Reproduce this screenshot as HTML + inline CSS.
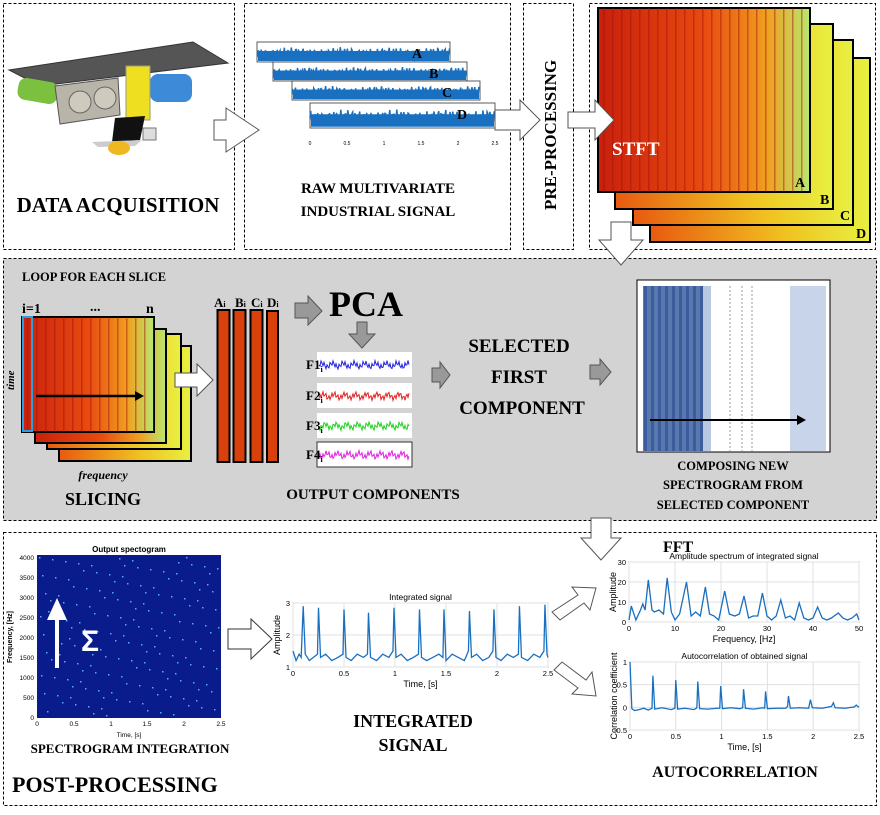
<!DOCTYPE html>
<html><head><meta charset="utf-8"><style>
body{margin:0;background:#fff;}
svg text{font-family:"Liberation Serif",serif;font-weight:bold;}
svg text.s, svg .s text{font-family:"Liberation Sans",sans-serif;font-weight:normal;}
</style></head><body>
<svg id="root" width="880" height="810" viewBox="0 0 880 810" xmlns="http://www.w3.org/2000/svg">
<defs>
<linearGradient id="spec" x1="0" x2="1" y1="0" y2="0"><stop offset="0" stop-color="#c8200c"/><stop offset="0.5" stop-color="#e84a10"/><stop offset="0.8" stop-color="#f0a020"/><stop offset="1" stop-color="#b8e870"/></linearGradient>
<linearGradient id="spec2" x1="0" x2="1"><stop offset="0" stop-color="#e85a10"/><stop offset="0.6" stop-color="#f0c020"/><stop offset="1" stop-color="#e8f040"/></linearGradient>
<pattern id="stripes" width="9" height="10" patternUnits="userSpaceOnUse"><rect width="9" height="10" fill="none"/><rect x="0" width="1.5" height="10" fill="#a01008" opacity="0.45"/></pattern>
<pattern id="bstripes" width="7" height="10" patternUnits="userSpaceOnUse"><rect x="0" width="3" height="10" fill="#2a4a90" opacity="0.6"/></pattern>
</defs>
<!-- frames -->
<rect x="3.5" y="3.5" width="231" height="246" fill="none" stroke="#000" stroke-dasharray="3,2"/>
<rect x="244.5" y="3.5" width="266" height="246" fill="none" stroke="#000" stroke-dasharray="3,2"/>
<rect x="523.5" y="3.5" width="50" height="246" fill="none" stroke="#000" stroke-dasharray="3,2"/>
<rect x="589.5" y="3.5" width="286" height="246" fill="none" stroke="#000" stroke-dasharray="3,2"/>
<rect x="3.5" y="258.5" width="873" height="262" fill="#d3d3d3" stroke="#000" stroke-dasharray="3,2"/>
<rect x="3.5" y="532.5" width="873" height="273" fill="none" stroke="#000" stroke-dasharray="3,2"/>

<!-- machine -->
<g>
<polygon points="9,70 193,42 228,63 40,86" fill="#555" stroke="#333"/>
<rect x="18" y="80" width="40" height="22" rx="8" fill="#7cc040" transform="rotate(10 38 90)"/>
<rect x="150" y="74" width="42" height="28" rx="8" fill="#3c8ad8"/>
<polygon points="55,86 118,78 120,115 60,124" fill="#b8b4a8" stroke="#555"/>
<circle cx="80" cy="102" r="11" fill="#cfcabe" stroke="#666"/><circle cx="105" cy="98" r="11" fill="#cfcabe" stroke="#666"/>
<rect x="126" y="66" width="24" height="54" fill="#eee020" stroke="#997"/>
<polygon points="115,118 145,116 140,140 112,142" fill="#111"/>
<polygon points="92,142 142,140 135,146 98,147" fill="#ccc"/>
<ellipse cx="119" cy="148" rx="11" ry="7" fill="#f0b820"/>
<rect x="143" y="128" width="13" height="12" fill="#ddd" stroke="#777"/>
</g>
<text x="118" y="212" font-size="21" text-anchor="middle">DATA ACQUISITION</text>

<!-- raw signals -->
<g id="raw"></g>
<text x="378" y="193" font-size="15" text-anchor="middle">RAW MULTIVARIATE</text>
<text x="378" y="216" font-size="15" text-anchor="middle">INDUSTRIAL SIGNAL</text>
<text transform="translate(556,210) rotate(-90)" font-size="17">PRE-PROCESSING</text>

<!-- STFT spectrograms -->
<g>
<rect x="650" y="58" width="220" height="184" fill="url(#spec2)" stroke="#000" stroke-width="2"/>
<rect x="633" y="40" width="220" height="185" fill="url(#spec2)" stroke="#000" stroke-width="2"/>
<rect x="615" y="24" width="218" height="185" fill="url(#spec2)" stroke="#000" stroke-width="2"/>
<rect x="598" y="8" width="212" height="184" fill="url(#spec)" stroke="#000" stroke-width="2"/>
<rect x="598" y="8" width="212" height="184" fill="url(#stripes)"/>
<text x="612" y="155" font-size="19" fill="#fff">STFT</text>
<text x="795" y="187" font-size="14">A</text><text x="820" y="204" font-size="14">B</text>
<text x="840" y="220" font-size="14">C</text><text x="856" y="238" font-size="14">D</text>
</g>

<!-- middle section -->
<text x="22" y="281" font-size="12.5">LOOP FOR EACH SLICE</text>
<text x="22" y="313" font-size="14">i=1</text>
<text x="90" y="311" font-size="14">...</text>
<text x="146" y="313" font-size="14">n</text>
<g>
<rect x="59" y="346" width="132" height="115" fill="url(#spec2)" stroke="#000" stroke-width="2"/>
<rect x="47" y="334" width="134" height="115" fill="url(#spec2)" stroke="#000" stroke-width="2"/>
<rect x="35" y="329" width="131" height="114" fill="url(#spec)" stroke="#000" stroke-width="2"/>
<rect x="22" y="317" width="132" height="115" fill="url(#spec)" stroke="#000" stroke-width="2"/>
<rect x="22" y="317" width="132" height="115" fill="url(#stripes)"/>
<rect x="23" y="317" width="9" height="114" fill="none" stroke="#2aa0e0" stroke-width="2"/>
<line x1="36" y1="396" x2="138" y2="396" stroke="#000" stroke-width="2.5"/>
<polygon points="144,396 135,391 135,401" fill="#000"/>
</g>
<text transform="translate(14,390) rotate(-90)" font-size="11" font-style="italic">time</text>
<text x="103" y="479" font-size="12" font-style="italic" text-anchor="middle">frequency</text>
<text x="103" y="505" font-size="18" text-anchor="middle">SLICING</text>
<g><polygon points="175,373 197,373 197,364 213,380 197,396 197,387 175,387" fill="#fff" stroke="#555"/></g>
<g>
<rect x="217.5" y="310" width="12" height="152" fill="#d8400c" stroke="#000" stroke-width="2"/>
<rect x="233.5" y="310" width="12" height="152" fill="#d8400c" stroke="#000" stroke-width="2"/>
<rect x="250.5" y="310" width="12" height="152" fill="#d8400c" stroke="#000" stroke-width="2"/>
<rect x="267" y="311" width="11" height="151" fill="#d8400c" stroke="#000" stroke-width="2"/>
<text x="214" y="307" font-size="13">A<tspan font-size="8">i</tspan></text>
<text x="235" y="307" font-size="13">B<tspan font-size="8">i</tspan></text>
<text x="251" y="307" font-size="13">C<tspan font-size="8">i</tspan></text>
<text x="267" y="307" font-size="13">D<tspan font-size="8">i</tspan></text>
</g>
<polygon points="295,303 308,303 308,296 322,311 308,325 308,318 295,318" fill="#999" stroke="#555"/>
<text x="329" y="316" font-size="36">PCA</text>
<polygon points="357,322 367,322 367,334 375,334 362,348 349,334 357,334" fill="#999" stroke="#555"/>
<g id="fcomp"></g>
<text x="373" y="499" font-size="15" text-anchor="middle">OUTPUT COMPONENTS</text>
<polygon points="432,368 440,368 440,362 450,375 440,388 440,382 432,382" fill="#999" stroke="#555"/>
<g>
<text x="519" y="352" font-size="19" text-anchor="middle">SELECTED</text>
<text x="519" y="383" font-size="19" text-anchor="middle">FIRST</text>
<text x="522" y="414" font-size="19" text-anchor="middle">COMPONENT</text>
</g>
<polygon points="590,365 600,365 600,359 611,372 600,385 600,379 590,379" fill="#999" stroke="#555"/>
<g>
<rect x="637" y="280" width="193" height="172" fill="#fff" stroke="#000"/>
<rect x="643" y="286" width="60" height="165" fill="#5878b0"/>
<rect x="643" y="286" width="60" height="165" fill="url(#bstripes)"/>
<rect x="703" y="286" width="8" height="165" fill="#b8c8e0"/>
<line x1="730" y1="286" x2="730" y2="451" stroke="#999" stroke-dasharray="2,2"/>
<line x1="742" y1="286" x2="742" y2="451" stroke="#999" stroke-dasharray="2,2"/>
<line x1="752" y1="286" x2="752" y2="451" stroke="#999" stroke-dasharray="2,2"/>
<rect x="790" y="286" width="36" height="165" fill="#c8d4ea"/>
<line x1="650" y1="420" x2="798" y2="420" stroke="#000" stroke-width="2"/>
<polygon points="806,420 797,415 797,425" fill="#000"/>
</g>
<g>
<text x="733" y="470" font-size="12.5" text-anchor="middle">COMPOSING NEW</text>
<text x="733" y="489" font-size="12.5" text-anchor="middle">SPECTROGRAM FROM</text>
<text x="733" y="509" font-size="12.5" text-anchor="middle">SELECTED COMPONENT</text>
</g>

<!-- arrows -->
<polygon points="214,120 226,120 226,108 259,130 226,152 226,140 214,140" fill="#fff" stroke="#555"/>
<polygon points="495,110 520,110 520,100 540,120 520,140 520,130 495,130" fill="#fff" stroke="#555"/>
<polygon points="568,112 595,112 595,100 614,120 595,140 595,128 568,128" fill="#fff" stroke="#555"/>
<polygon points="611,222 631,222 631,240 643,240 621,265 599,240 611,240" fill="#fff" stroke="#555"/>
<polygon points="591,518 611,518 611,538 621,538 601,560 581,538 591,538" fill="#fff" stroke="#555"/>
<polygon points="228,629 251,629 251,619 272,639 251,659 251,649 228,649" fill="#fff" stroke="#333"/>
<polygon points="552,612 578,595 572,587 596,588 590,610 584,603 560,620" fill="#fff" stroke="#555"/>
<polygon points="554,670 562,662 586,680 592,672 596,696 572,694 578,688" fill="#fff" stroke="#555"/>

<!-- bottom -->
<g class="s">
<text x="129" y="552" font-size="8" text-anchor="middle" style="font-weight:bold">Output spectogram</text>
<rect x="37" y="555" width="184" height="163" fill="#0a1c8c"/>
<g id="dots"></g>
<g font-size="6.5" text-anchor="end" style="font-weight:bold">
<text x="34" y="560">4000</text><text x="34" y="580">3500</text><text x="34" y="600">3000</text><text x="34" y="620">2500</text><text x="34" y="640">2000</text><text x="34" y="660">1500</text><text x="34" y="680">1000</text><text x="34" y="700">500</text><text x="34" y="720">0</text>
</g>
<g font-size="6.5" text-anchor="middle" style="font-weight:bold">
<text x="37" y="726">0</text><text x="74" y="726">0.5</text><text x="111" y="726">1</text><text x="147" y="726">1.5</text><text x="184" y="726">2</text><text x="221" y="726">2.5</text>
<text x="129" y="737">Time, [s]</text>
</g>
<text transform="translate(12,637) rotate(-90)" font-size="7" text-anchor="middle" style="font-weight:bold">Frequency, [Hz]</text>
<line x1="57" y1="668" x2="57" y2="612" stroke="#fff" stroke-width="4"/>
<polygon points="57,598 47,620 67,620" fill="#fff"/>
<text x="81" y="651" font-size="30" fill="#fff" style="font-weight:bold">Σ</text>
</g>
<text x="130" y="753" font-size="13" text-anchor="middle">SPECTROGRAM INTEGRATION</text>
<text x="12" y="792" font-size="22">POST-PROCESSING</text>
<g id="integ"></g>
<text x="413" y="727" font-size="18" text-anchor="middle">INTEGRATED</text>
<text x="413" y="751" font-size="18" text-anchor="middle">SIGNAL</text>
<text x="663" y="552" font-size="16">FFT</text>
<g id="fft"></g>
<g id="acorr"></g>
<text x="735" y="777" font-size="16" text-anchor="middle">AUTOCORRELATION</text>
</svg>
<script>
// ---- chart data ----
const fftFreq = [0,0.5,1.5,2.5,3,3.5,4.2,5,5.5,6.5,7.5,8.3,9.2,10,11,12.5,13.5,14.5,15.5,16.6,17.5,18.5,19.5,20.8,21.8,23,24,25,26,27,28,29,30,31,32,33,34,35,36,37,38,39,40,41,42,43,44,45.5,46.5,47.5,48.5,49.5,50];
const fftAmp  = [1,8,1,6,9,6,21,6,5,6,4,22,5,1,4,20,3,5,3,17.5,4,3,1,15.5,4,3,4,13,2,3,3,14.5,3,1,3,11,2,3,1,9.5,2,1,2,7.5,2,1,2,4.5,2,1,2,4,1];
const fftXTicks = [0,10,20,30,40,50];
const fftYTicks = [0,10,20,30];
const acTime = [0,0.02,0.05,0.1,0.15,0.2,0.24,0.25,0.27,0.35,0.45,0.49,0.5,0.52,0.6,0.7,0.73,0.74,0.76,0.85,0.95,0.98,0.99,1.01,1.1,1.2,1.23,1.24,1.26,1.35,1.45,1.47,1.48,1.5,1.6,1.7,1.72,1.73,1.75,1.85,1.95,1.97,1.99,2.1,2.2,2.22,2.24,2.35,2.45,2.47,2.5];
const acVal  = [1,-0.03,-0.07,-0.05,-0.02,-0.06,-0.02,0.7,-0.04,-0.01,-0.05,-0.02,0.6,-0.04,-0.02,-0.05,-0.01,0.57,-0.03,-0.04,-0.02,-0.02,0.47,-0.03,-0.01,-0.03,-0.01,0.4,-0.02,-0.04,-0.01,-0.02,0.35,-0.03,-0.02,-0.02,0.02,0.25,-0.02,-0.01,-0.02,0.17,-0.01,-0.02,0.02,0.1,-0.01,-0.02,0.01,0.05,0.0];
const acXTicks = [0,0.5,1,1.5,2,2.5];
const acYTicks = [-0.5,0,0.5,1];
const inTime = [0,0.03,0.06,0.08,0.1,0.12,0.16,0.2,0.24,0.25,0.27,0.32,0.38,0.44,0.49,0.5,0.52,0.57,0.63,0.69,0.73,0.74,0.76,0.82,0.88,0.94,0.98,0.99,1.01,1.06,1.12,1.18,1.23,1.24,1.26,1.31,1.37,1.43,1.47,1.48,1.5,1.56,1.62,1.68,1.72,1.73,1.75,1.8,1.86,1.92,1.96,1.97,1.99,2.04,2.1,2.16,2.21,2.22,2.24,2.3,2.36,2.42,2.46,2.47,2.49,2.5];
const inVal  = [1.5,1.2,1.4,1.3,2.9,1.4,1.2,1.3,1.4,2.85,1.3,1.4,1.2,1.3,1.4,2.8,1.3,1.2,1.4,1.3,1.4,2.7,1.3,1.2,1.4,1.3,1.5,2.85,1.3,1.4,1.2,1.3,1.4,2.8,1.3,1.2,1.3,1.4,1.3,2.8,1.2,1.4,1.3,1.2,1.5,2.75,1.3,1.4,1.2,1.3,1.5,2.8,1.3,1.2,1.4,1.3,1.4,2.9,1.3,1.2,1.4,1.3,1.5,2.95,1.4,1.3];
const inXTicks = [0,0.5,1,1.5,2,2.5];
const inYTicks = [1,2,3];

const NS="http://www.w3.org/2000/svg";
function mk(tag,attrs,parent){const e=document.createElementNS(NS,tag);for(const k in attrs)e.setAttribute(k,attrs[k]);if(parent)parent.appendChild(e);return e;}
function chart(g,box,xd,yd,xs,ys,xt,yt,title,xlabel,ylabel,name){
  const [x0,y0,w,h]=box;
  const sx=v=>x0+(v-xd[0])/(xd[1]-xd[0])*w;
  const sy=v=>y0+h-(v-yd[0])/(yd[1]-yd[0])*h;
  mk('rect',{x:x0,y:y0,width:w,height:h,fill:'#fff',stroke:'#444','stroke-width':0.8},g);
  xt.forEach(t=>{mk('line',{x1:sx(t),x2:sx(t),y1:y0,y2:y0+h,stroke:'#e0e0e0'},g);const tx=mk('text',{x:sx(t),y:y0+h+9,'font-size':7.5,'text-anchor':'middle',class:'s'},g);tx.textContent=t;});
  yt.forEach(t=>{mk('line',{x1:x0,x2:x0+w,y1:sy(t),y2:sy(t),stroke:'#e0e0e0'},g);const tx=mk('text',{x:x0-3,y:sy(t)+3,'font-size':7.5,'text-anchor':'end',class:'s'},g);tx.textContent=t;});
  const p=mk('polyline',{points:xs.map((v,i)=>sx(v)+','+sy(ys[i])).join(' '),fill:'none',stroke:'#1a70c0','stroke-width':1.3},g);
  
  
  let t=mk('text',{x:x0+w/2,y:y0-3,'font-size':8.5,'text-anchor':'middle',class:'s'},g);t.textContent=title;
  t=mk('text',{x:x0+w/2,y:y0+h+20,'font-size':9,'text-anchor':'middle',class:'s'},g);t.textContent=xlabel;
  t=mk('text',{transform:`translate(${x0-13},${y0+h/2}) rotate(-90)`,'font-size':9,'text-anchor':'middle',class:'s'},g);t.textContent=ylabel;
}
chart(document.getElementById('fft'),[629,562,230,60],[0,50],[0,30],fftFreq,fftAmp,fftXTicks,fftYTicks,'Amplitude spectrum of integrated signal','Frequency, [Hz]','Amplitude','fft-line');
chart(document.getElementById('acorr'),[630,662,229,68],[0,2.5],[-0.5,1],acTime,acVal,acXTicks,acYTicks,'Autocorrelation of obtained signal','Time, [s]','Correlation coefficient','autocorrelation-line');
chart(document.getElementById('integ'),[293,603,255,64],[0,2.5],[1,3],inTime,inVal,inXTicks,inYTicks,'Integrated signal','Time, [s]','Amplitude','integrated-line');

// decorative raw signals
const raw=document.getElementById('raw');
const boxes=[[257,42,193,20,'A'],[273,62,194,19,'B'],[292,81,188,19,'C'],[310,103,185,25,'D']];
boxes.forEach((b,k)=>{
  const [x,y,w,h,l]=b;
  mk('rect',{x:x,y:y,width:w,height:h,fill:'#fff',stroke:'#333','stroke-width':0.8},raw);
  mk('rect',{x:x+1,y:y+h*0.45,width:w-2,height:h*0.5,fill:'#1a70c0'},raw);
  let pts=[];for(let i=0;i<=w;i+=0.7){const v=Math.sin(i*2.7+k)*0.5+Math.sin(i*7.3+k*2)*0.35+Math.sin(i*0.13)*0.15;pts.push((x+i)+','+(y+h*0.6+v*h*0.35));}
  mk('polyline',{points:pts.join(' '),fill:'none',stroke:'#1a70c0','stroke-width':1.5},raw);
  const t=mk('text',{x:x+w-38,y:y+16,'font-size':14},raw);t.textContent=l;
});
['0','0.5','1','1.5','2','2.5'].forEach((s,i)=>{const t=mk('text',{x:310+i*37,y:145,'font-size':5,'text-anchor':'middle',class:'s'},raw);t.textContent=s;});

// F components
const fc=document.getElementById('fcomp');
const cols=['#2020e0','#e02020','#20d020','#e020e0'];
[352,383,413,442].forEach((y,k)=>{
  mk('rect',{x:317,y:y,width:95,height:25,fill:'#fff',stroke:k==3?'#333':'none'},fc);
  let pts=[];for(let i=0;i<=90;i++){const v=Math.sin(i*2.1+k*3)*0.5+Math.sin(i*5.7+k)*0.4;pts.push((319+i)+','+(y+13+v*5));}
  mk('polyline',{points:pts.join(' '),fill:'none',stroke:cols[k],'stroke-width':1},fc);
  const t=mk('text',{x:306,y:y+17,'font-size':13},fc);t.textContent='F'+(k+1);
  const s=mk('tspan',{'font-size':8,dy:3},t);s.textContent='i';
});
// spectrogram dots
const dots=document.getElementById('dots');
for(let i=0;i<170;i++){const x=39+((i*53)%180),y=557+((i*97)%159);mk('rect',{x:x,y:y,width:1.5,height:1.5,fill:'#50b0f0'},dots);}
</script>
</body></html>
